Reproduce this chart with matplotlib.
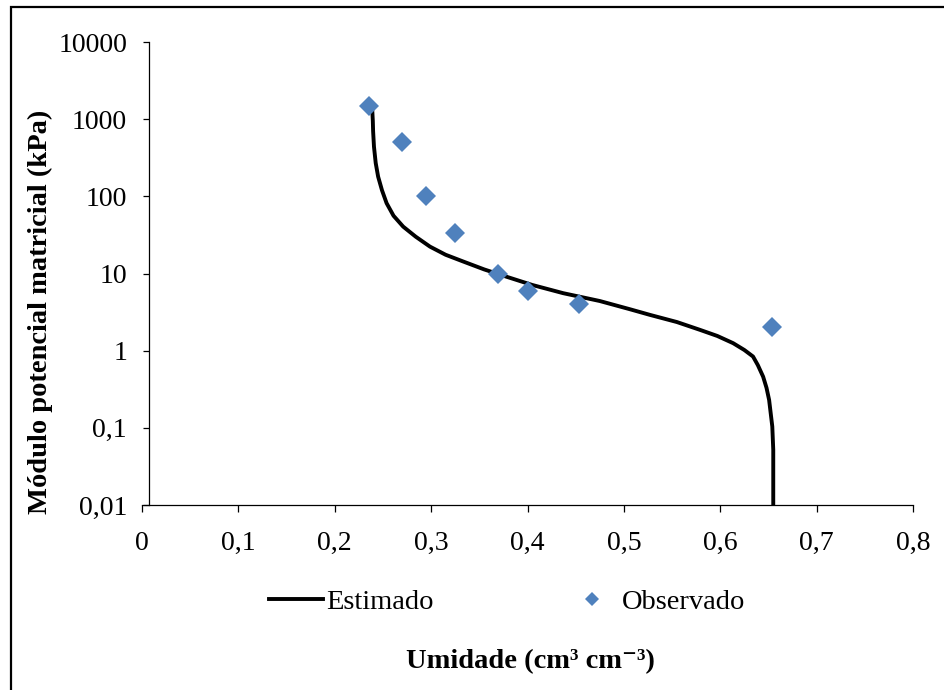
import matplotlib
matplotlib.use("Agg")
import matplotlib.pyplot as plt
from matplotlib.lines import Line2D
from matplotlib.patches import Rectangle

plt.rcParams['font.family'] = ['Liberation Serif', 'DejaVu Serif']

# observed points
obs_x = [0.236, 0.270, 0.295, 0.325, 0.369, 0.401, 0.453, 0.654]
obs_y = [1500, 500, 100, 33, 10, 6, 4, 2]

# estimated curve
est_x = [0.239, 0.2395, 0.2398, 0.2407, 0.2425, 0.245, 0.249, 0.2538, 0.261, 0.271,
         0.284, 0.2988, 0.315, 0.3333, 0.355, 0.378, 0.405, 0.437, 0.475, 0.506,
         0.527, 0.555, 0.579, 0.597, 0.6134, 0.625, 0.634, 0.639, 0.6445, 0.648,
         0.6507, 0.654, 0.655, 0.655]
est_y = [1250, 950, 700, 440, 270, 180, 120, 81.5, 56, 40.5,
         30, 22.3, 17.5, 14.3, 11.3, 9.1, 7.1, 5.56, 4.4, 3.45,
         2.91, 2.35, 1.86, 1.55, 1.25, 1.02, 0.84, 0.65, 0.46, 0.33,
         0.23, 0.104, 0.052, 0.01]

xticks = [0, 0.1, 0.2, 0.3, 0.4, 0.5, 0.6, 0.7, 0.8]
xlabels = ['0', '0,1', '0,2', '0,3', '0,4', '0,5', '0,6', '0,7', '0,8']
yticks = [0.01, 0.1, 1, 10, 100, 1000, 10000]
ylabels = ['0,01', '0,1', '1', '10', '100', '1000', '10000']

blue = '#4F81BD'

fig = plt.figure(figsize=(9.44, 6.90), dpi=100)
ax = fig.add_axes([142/944, 1-505/690, 771/944, 463/690])

ax.plot(est_x, est_y, color='black', lw=2.8, zorder=2, solid_joinstyle='round')
ax.plot(obs_x, obs_y, 'D', color=blue, ms=10.5, mew=0, zorder=3)

ax.set_yscale('log')
ax.set_xlim(0, 0.8)
ax.set_ylim(0.01, 10000)
ax.set_xticks(xticks)
ax.set_xticklabels(xlabels)
ax.set_yticks(yticks)
ax.set_yticklabels(ylabels)
ax.minorticks_off()

ax.spines['top'].set_visible(False)
ax.spines['right'].set_visible(False)
ax.spines['left'].set_position(('data', 0.0075))
for s in ('left', 'bottom'):
    ax.spines[s].set_linewidth(0.9)
ax.tick_params(axis='x', direction='out', length=5, width=0.9, labelsize=20, pad=14)
ax.tick_params(axis='y', direction='out', length=4, width=0.9, labelsize=20, pad=12)

fig.text(40/944, 1-312/690, 'Módulo potencial matricial (kPa)', rotation=90,
         ha='center', va='center', fontsize=20.5, fontweight='bold')
fig.text(530/944, 1-662/690, 'Umidade (cm³ cm⁻³)', ha='center', va='center',
         fontsize=20.5, fontweight='bold')

handles = [Line2D([], [], color='black', lw=2.8),
           Line2D([], [], ls='none', marker='D', color=blue, ms=7.5, mew=0)]
fig.legend(handles, ['Estimado', 'Observado'], loc='center', ncol=2,
           bbox_to_anchor=(507/944, 1-602/690), frameon=False, fontsize=20.5,
           handlelength=1.9, handletextpad=0.1, columnspacing=4.6)

fig.patches.append(Rectangle((11/944, -0.1), 1.2, 1-7/690+0.1, transform=fig.transFigure,
                             fill=False, ec='black', lw=1.6))

fig.savefig('out.png', dpi=100)
